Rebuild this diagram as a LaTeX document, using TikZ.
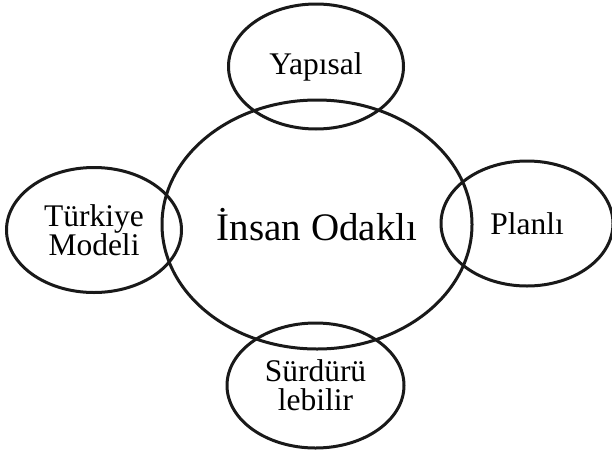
\documentclass[tikz,border=0pt]{standalone}
\usepackage{fontspec}
\setmainfont{Liberation Serif}
\usetikzlibrary{shapes.geometric}
\begin{document}
\begin{tikzpicture}[x=1pt,y=-1pt,
  bub/.style={ellipse,draw=black!90,line width=3pt,inner sep=0pt,align=center,
    minimum width=175pt,minimum height=125pt,font=\fontsize{31.5}{29}\selectfont},
  hub/.style={bub,minimum width=310pt,minimum height=249pt,font=\fontsize{39}{44}\selectfont}]
\useasboundingbox (0,0) rectangle (612,450);
\node[hub] (c) at (317,224.5) {İnsan Odaklı};
\node[bub] (top) at (316,66.5) {Yapısal};
\node[bub] (left) at (94,230) {Türkiye\\Modeli};
\node[bub,minimum width=172pt] (right) at (527,223.5) {Planlı};
\node[bub,minimum width=177pt] (bottom) at (315.5,385.5) {Sürdürü\\lebilir};
\end{tikzpicture}
\end{document}
